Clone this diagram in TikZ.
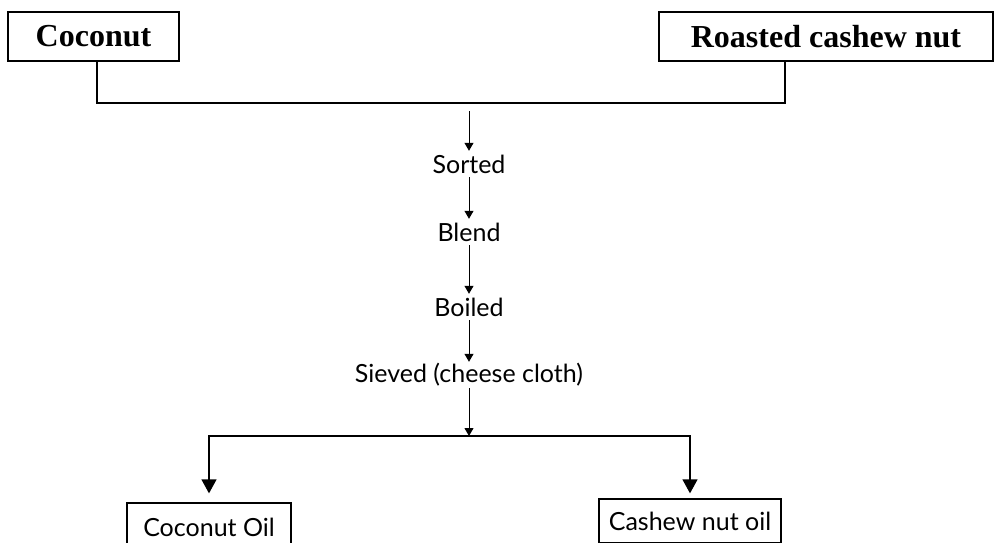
\documentclass[tikz,border=0pt]{standalone}
\usepackage{fontspec}
\setmainfont{Liberation Serif}
\newfontfamily\stepfont{Lato}
\usepackage{tikz}
\usetikzlibrary{positioning, arrows.meta}
\tikzstyle{box} = [
    rectangle, text centered,
    draw,
    line width=1.3pt,
    inner sep=0pt,
]
\tikzstyle{source} = [
    box,
    minimum height=49pt,
    font=\fontsize{32}{38}\selectfont\bfseries,
]
\tikzstyle{product} = [
    box,
    font=\stepfont\fontsize{25}{30}\selectfont,
]
\tikzstyle{stage} = [
    inner sep=0pt,
    minimum height=26pt,
    font=\stepfont\fontsize{25}{30}\selectfont,
]
\tikzstyle{arrow} = [-{Triangle[length=8pt,width=9pt]}, line width=1pt]
\tikzstyle{bigarrow} = [-{Triangle[length=14pt,width=15pt]}, line width=1.3pt]

\begin{document}
\begin{tikzpicture}[x=1pt, y=-1pt]
    \useasboundingbox (0,0) rectangle (994,543);

    % boxes
    \node (coconut) at (93.5, 36.5) [source, minimum width=171pt] {Coconut};
    \node (roasted) at (826, 36.5) [source, minimum width=334pt] {Roasted cashew nut};
    \node (coconutoil) at (209, 527) [product, minimum width=164pt, minimum height=48pt] {Coconut Oil};
    \node (cashewoil) at (690, 521) [product, minimum width=182pt, minimum height=44pt] {Cashew nut oil};

    % stages
    \foreach \name/\txt/\y in {sorted/Sorted/164, blend/Blend/232, boiled/Boiled/307, sieved/Sieved (cheese cloth)/375} {
        \node (\name) at (469, \y) [stage] {\txt};
    }

    \coordinate (mergeL) at (97, 103);
    \coordinate (mergeR) at (785, 103);
    \coordinate (start) at (469, 111);
    \coordinate (split) at (469, 436);

    % arrows
    \draw [line width=2pt] (coconut.south -| mergeL) -- (mergeL) -- (mergeR) -- (roasted.south -| mergeR);
    \draw [arrow] (start) to (sorted.north);
    \draw [arrow] (sorted.south) to (blend.north);
    \draw [arrow] (blend.south) to (boiled.north);
    \draw [arrow] (boiled.south) to (sieved.north);
    \draw [arrow] (sieved.south) to (split);
    \draw [bigarrow, shorten >=9pt] (split) -| (coconutoil.north);
    \draw [bigarrow, shorten >=5pt] (split) -| (cashewoil.north);
\end{tikzpicture}
\end{document}
